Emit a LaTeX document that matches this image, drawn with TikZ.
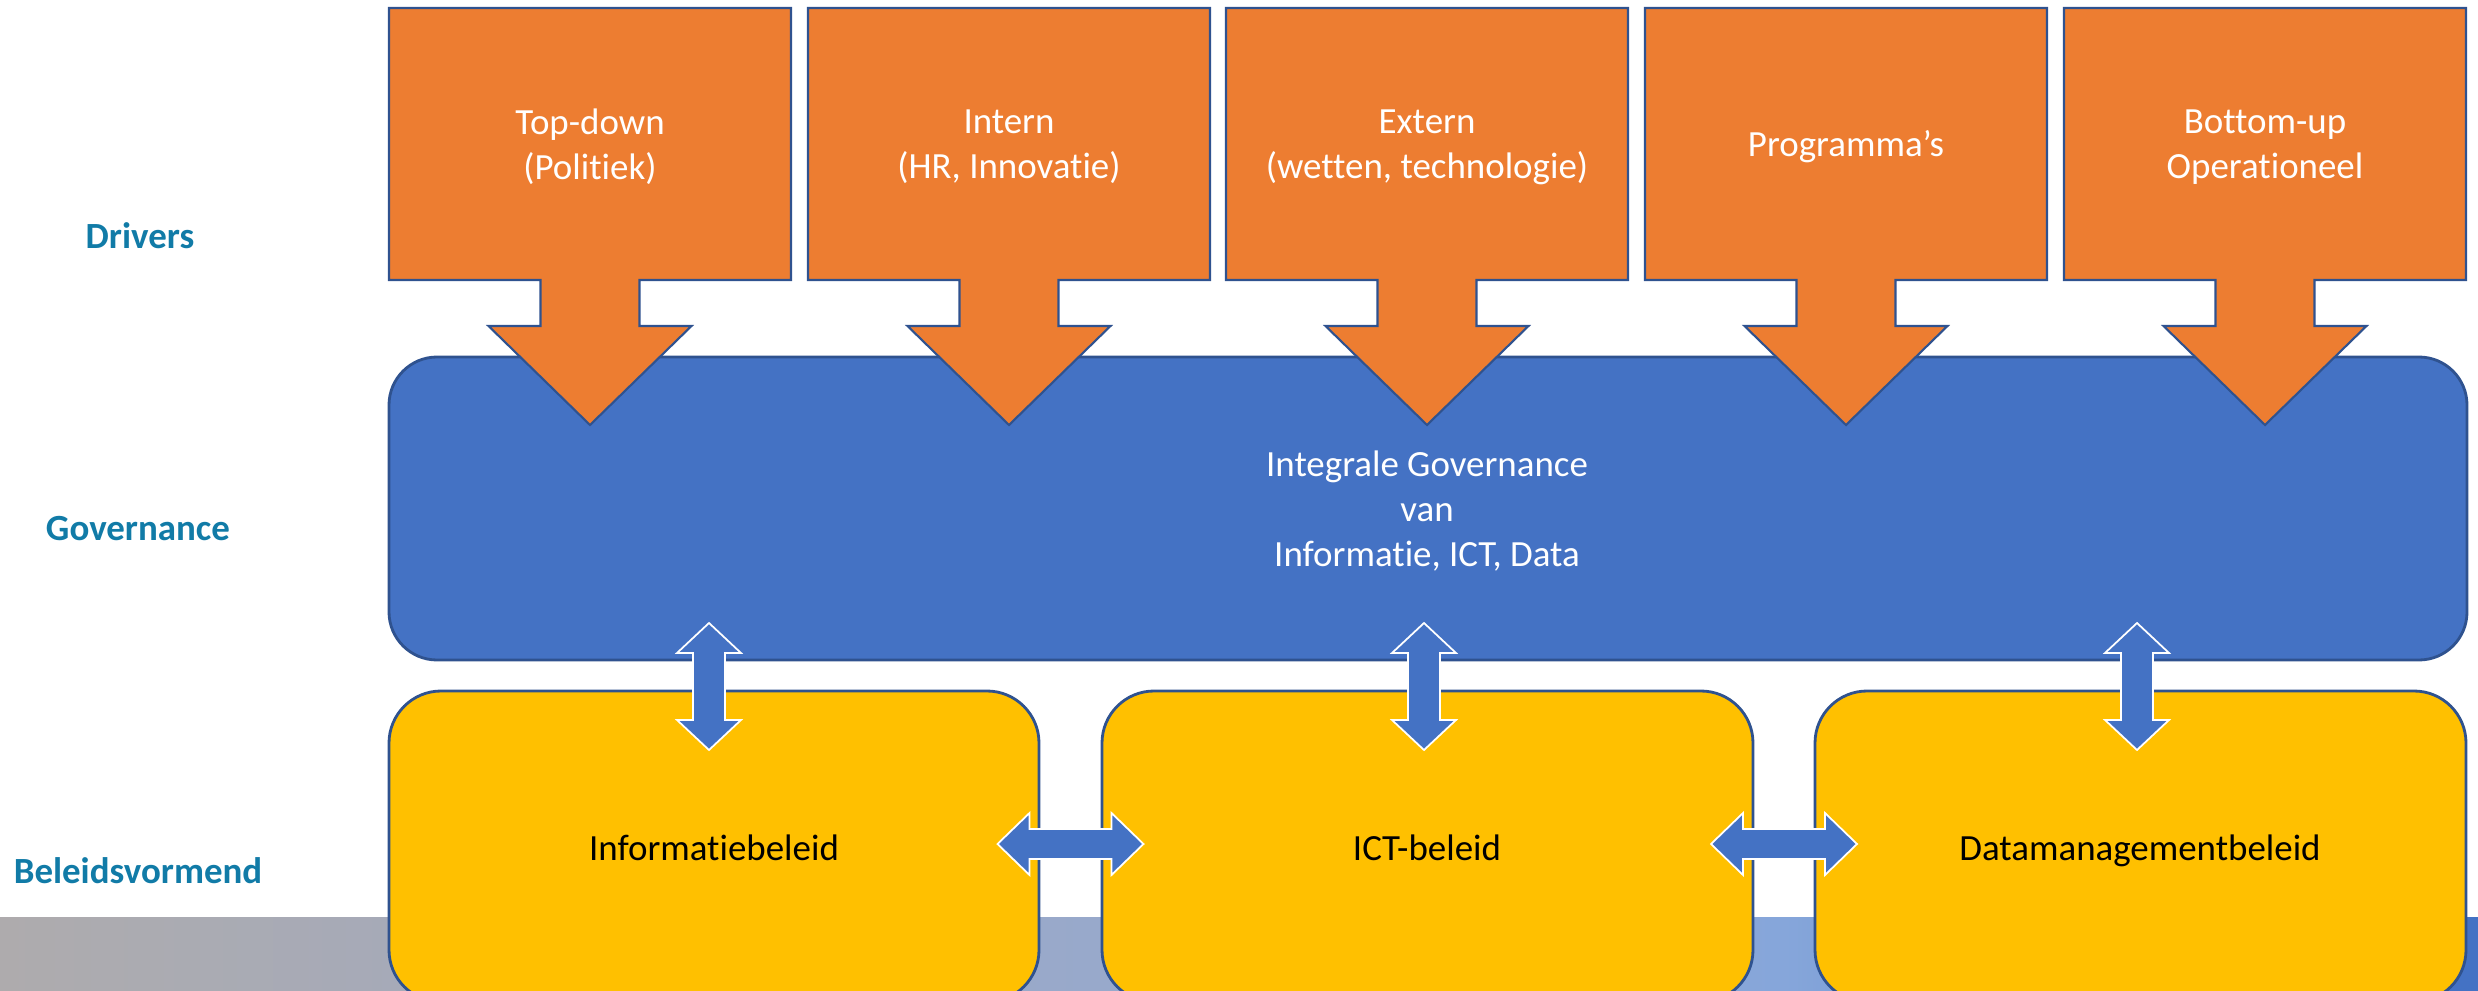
\documentclass[tikz,border=0pt]{standalone}
\usepackage{fontspec}
\setmainfont[RawFeature={-liga;-clig}]{Carlito}
\definecolor{orng}{HTML}{ED7D31}
\definecolor{blu}{HTML}{4472C4}
\definecolor{ylw}{HTML}{FFC000}
\definecolor{edge}{HTML}{2F528F}
\definecolor{lbl}{HTML}{117BA7}
\definecolor{g0}{HTML}{AEABAD}
\definecolor{g1}{HTML}{98A9CB}
\definecolor{g2}{HTML}{86A6DA}
\definecolor{g3}{HTML}{4472C4}
\pgfdeclarehorizontalshading{barshade}{100bp}{color(0bp)=(g0); color(25bp)=(g0); color(47bp)=(g1); color(61bp)=(g2); color(73bp)=(g3); color(100bp)=(g3)}
\tikzset{
  txt/.style={font=\fontsize{10.5}{12.8}\selectfont, align=center, inner sep=0pt},
  lab/.style={font=\fontsize{10.5}{12.8}\selectfont\bfseries, text=lbl, inner sep=0pt},
  callout/.style={fill=orng, draw=edge, line width=0.6pt, line join=miter},
  govbox/.style={fill=blu, draw=edge, line width=0.8pt, rounded corners=0.48cm},
  polbox/.style={fill=ylw, draw=edge, line width=0.8pt, rounded corners=0.52cm},
  dblarrow/.style={fill=blu, draw=white, line width=0.5pt, line join=miter}
}
\begin{document}
\begin{tikzpicture}[x=0.01cm, y=-0.01cm]
\useasboundingbox (0,0) rectangle (2478,991);
% bottom gradient bar
\shade[shading=barshade] (0,917) rectangle (2478,991);
% governance box
\draw[govbox] (389,357) rectangle (2467,660);
\node[txt, text=white] (gov) at (1427,511) {Integrale Governance\\van\\Informatie, ICT, Data};
% drivers callouts
\foreach \cx/\nm/\tx in {590/td/{Top-down\\(Politiek)}, 1009/in/{Intern\\(HR, Innovatie)}, 1427/ex/{Extern\\(wetten, technologie)}, 1846/pr/{Programma’s}, 2265/bu/{Bottom-up\\Operationeel}}{
  \draw[callout] (\cx-201,8) -- (\cx+201,8) -- (\cx+201,280) -- (\cx+49.5,280) -- (\cx+49.5,326) -- (\cx+101.5,326) -- (\cx,425) -- (\cx-101.5,326) -- (\cx-49.5,326) -- (\cx-49.5,280) -- (\cx-201,280) -- cycle;
  \node[txt, text=white] (\nm) at (\cx,147) {\tx};
}
% policy boxes
\draw[polbox] (389,691) rectangle (1039,1002);
\draw[polbox] (1102,691) rectangle (1753,1002);
\draw[polbox] (1815,691) rectangle (2466,1002);
\node[txt, anchor=base] (ib) at (714,860) {Informatiebeleid};
\node[txt, anchor=base] (ict) at (1427,860) {ICT-beleid};
\node[txt, anchor=base] (dm) at (2140,860) {Datamanagementbeleid};
% vertical double arrows
\foreach \cx in {709,1424,2137}{
  \draw[dblarrow] (\cx,623) -- (\cx+32,653) -- (\cx+16,653) -- (\cx+16,720) -- (\cx+32,720) -- (\cx,750) -- (\cx-32,720) -- (\cx-16,720) -- (\cx-16,653) -- (\cx-32,653) -- cycle;
}
% horizontal double arrows
\foreach \cx in {1070.5,1784}{
  \draw[dblarrow] (\cx-73,844) -- (\cx-41,813) -- (\cx-41,829) -- (\cx+41,829) -- (\cx+41,813) -- (\cx+73,844) -- (\cx+41,875) -- (\cx+41,859) -- (\cx-41,859) -- (\cx-41,875) -- cycle;
}
% row labels
\node[lab] (ldrv) at (140,236) {Drivers};
\node[lab] (lgov) at (138,529) {Governance};
\node[lab] (lbel) at (138,871) {Beleidsvormend};
\end{tikzpicture}
\end{document}
